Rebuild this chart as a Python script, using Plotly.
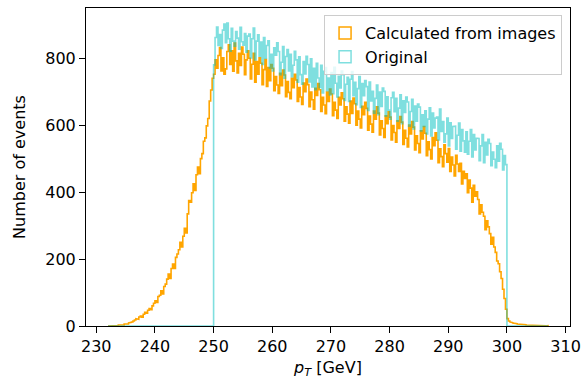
import numpy as np
import plotly.graph_objects as go

# ---------------- data ----------------
BIN_START = 232.0
BIN_WIDTH = 0.25
SERIES_NAMES = ["Calculated from images", "Original"]

# counts per 0.25 GeV bin from 232 to 307 GeV (4 bins per GeV per row)
CALCULATED_COUNTS = [
    0, 1, 0, 1,          # 232
    1, 2, 1, 3,          # 233
    3, 4, 3, 6,          # 234
    7, 6, 9, 11,         # 235
    12, 15, 18, 22,      # 236
    20, 27, 30, 26,      # 237
    35, 41, 38, 47,      # 238
    52, 49, 60, 68,      # 239
    75, 70, 88, 92,      # 240
    105, 96, 118, 125,   # 241
    140, 155, 142, 172,  # 242
    185, 172, 205, 215,  # 243
    228, 250, 236, 268,  # 244
    292, 278, 335, 375,  # 245
    370, 398, 425, 405,  # 246
    452, 475, 455, 500,  # 247
    515, 552, 562, 598,  # 248
    620, 672, 705, 740,  # 249
    752, 795, 770, 808,  # 250
    832, 762, 801, 752,  # 251
    768, 820, 840, 781,  # 252
    822, 761, 845, 792,  # 253
    756, 815, 778, 833,  # 254
    812, 751, 795, 822,  # 255
    800, 738, 782, 815,  # 256
    728, 790, 752, 801,  # 257
    785, 721, 766, 796,  # 258
    716, 772, 733, 781,  # 259
    770, 703, 745, 720,  # 260
    695, 755, 718, 765,  # 261
    750, 685, 730, 698,  # 262
    679, 740, 712, 752,  # 263
    735, 671, 712, 684,  # 264
    662, 726, 700, 738,  # 265
    721, 655, 699, 676,  # 266
    648, 710, 689, 724,  # 267
    706, 641, 683, 660,  # 268
    634, 699, 671, 708,  # 269
    693, 628, 668, 645,  # 270
    620, 683, 660, 697,  # 271
    679, 612, 655, 633,  # 272
    606, 672, 635, 681,  # 273
    664, 600, 642, 618,  # 274
    592, 656, 631, 668,  # 275
    650, 585, 627, 603,  # 276
    579, 642, 618, 655,  # 277
    636, 571, 613, 590,  # 278
    563, 628, 604, 640,  # 279
    624, 556, 599, 578,  # 280
    549, 613, 590, 626,  # 281
    609, 542, 585, 561,  # 282
    535, 600, 574, 611,  # 283
    594, 526, 568, 545,  # 284
    518, 583, 559, 596,  # 285
    576, 509, 550, 527,  # 286
    499, 563, 539, 577,  # 287
    555, 488, 529, 506,  # 288
    476, 541, 515, 489,  # 289
    530, 462, 505, 481,  # 290
    448, 510, 484, 462,  # 291
    486, 424, 462, 441,  # 292
    455, 398, 436, 412,  # 293
    370, 420, 388, 401,  # 294
    378, 335, 362, 340,  # 295
    328, 288, 314, 296,  # 296
    276, 244, 265, 236,  # 297
    220, 194, 186, 162,  # 298
    142, 110, 82, 50,    # 299
    22, 15, 12, 10,      # 300
    9, 8, 7, 6,          # 301
    6, 5, 5, 4,          # 302
    4, 3, 3, 2,          # 303
    3, 2, 2, 2,          # 304
    1, 2, 1, 1,          # 305
    1, 1, 0, 1,          # 306
]

# original counts, non-zero only between 250 and 300 GeV
ORIGINAL_START = 250.0
ORIGINAL_COUNTS = [
    780, 862, 893, 838,  # 250
    871, 829, 884, 902,  # 251
    846, 905, 858, 821,  # 252
    889, 851, 836, 880,  # 253
    860, 827, 892, 849,  # 254
    839, 874, 818, 866,  # 255
    872, 801, 858, 890,  # 256
    795, 851, 870, 806,  # 257
    848, 781, 862, 800,  # 258
    838, 852, 771, 812,  # 259
    762, 831, 809, 846,  # 260
    820, 751, 788, 835,  # 261
    740, 805, 826, 762,  # 262
    812, 745, 779, 821,  # 263
    795, 728, 804, 751,  # 264
    722, 790, 753, 806,  # 265
    781, 729, 798, 714,  # 266
    770, 706, 785, 741,  # 267
    713, 779, 696, 761,  # 268
    772, 703, 741, 690,  # 269
    757, 694, 773, 725,  # 270
    684, 746, 711, 762,  # 271
    751, 674, 722, 743,  # 272
    671, 737, 760, 688,  # 273
    728, 661, 709, 745,  # 274
    653, 724, 688, 733,  # 275
    715, 644, 729, 672,  # 276
    701, 636, 680, 720,  # 277
    631, 699, 656, 711,  # 278
    701, 627, 685, 645,  # 279
    618, 682, 698, 640,  # 280
    680, 612, 651, 691,  # 281
    604, 673, 638, 684,  # 282
    669, 597, 641, 677,  # 283
    589, 657, 612, 663,  # 284
    654, 583, 631, 596,  # 285
    643, 574, 618, 652,  # 286
    568, 636, 592, 621,  # 287
    624, 556, 648, 581,  # 288
    611, 549, 574, 621,  # 289
    538, 607, 560, 596,  # 290
    597, 528, 570, 606,  # 291
    522, 587, 553, 519,  # 292
    580, 513, 552, 587,  # 293
    505, 572, 526, 561,  # 294
    560, 494, 538, 572,  # 295
    488, 549, 511, 558,  # 296
    545, 479, 520, 498,  # 297
    473, 538, 492, 546,  # 298
    528, 466, 509, 482,  # 299
]

X_TICKS = [230, 240, 250, 260, 270, 280, 290, 300, 310]
Y_TICKS = [0, 200, 400, 600, 800]
X_RANGE = [228.25, 310.75]
Y_RANGE = [0, 950]

ORANGE = "#ffa500"
CYAN = "rgba(0,191,191,0.5)"
FONT = "DejaVu Sans"

# ---------------- build ----------------
calc = np.asarray(CALCULATED_COUNTS, dtype=float)
orig_full = np.zeros_like(calc)
offset = int(round((ORIGINAL_START - BIN_START) / BIN_WIDTH))
orig_full[offset:offset + len(ORIGINAL_COUNTS)] = ORIGINAL_COUNTS


def step_xy(counts):
    edges = BIN_START + BIN_WIDTH * np.arange(len(counts) + 1)
    x = np.repeat(edges, 2)
    y = np.concatenate([[0.0], np.repeat(counts, 2), [0.0]])
    return x, y


fig = go.Figure()
for counts, color, name in [(calc, ORANGE, SERIES_NAMES[0]),
                            (orig_full, CYAN, SERIES_NAMES[1])]:
    x, y = step_xy(counts)
    fig.add_trace(go.Scatter(x=x, y=y, mode="lines", name=name,
                             line=dict(color=color, width=1.6),
                             showlegend=False, hoverinfo="skip"))

# legend entries drawn as outlined patches (like matplotlib step hist)
for color, name in [(ORANGE, SERIES_NAMES[0]), (CYAN, SERIES_NAMES[1])]:
    fig.add_trace(go.Bar(x=[None], y=[None], name=name,
                         marker=dict(color="rgba(0,0,0,0)",
                                     line=dict(color=color, width=1.5))))

axis_common = dict(
    showline=True, mirror=True, linecolor="black", linewidth=1,
    ticks="outside", ticklen=6, tickwidth=1, tickcolor="black",
    showgrid=False, zeroline=False,
    tickfont=dict(family=FONT, size=16, color="black"),
)

fig.update_layout(
    width=588, height=385,
    margin=dict(l=86, r=15, t=7, b=59),
    paper_bgcolor="white", plot_bgcolor="white",
    font=dict(family=FONT, size=16, color="black"),
    xaxis=dict(range=X_RANGE, tickvals=X_TICKS,
               title=dict(text="<i>p</i><sub><i>T</i></sub> [GeV]",
                          font=dict(family=FONT, size=16), standoff=6),
               **axis_common),
    yaxis=dict(range=Y_RANGE, tickvals=Y_TICKS,
               title=dict(text="Number of events",
                          font=dict(family=FONT, size=16), standoff=15),
               **axis_common),
    legend=dict(x=0.9836, y=0.978, xanchor="right", yanchor="top",
                bgcolor="rgba(255,255,255,0.8)", bordercolor="#cccccc",
                borderwidth=1, font=dict(family=FONT, size=16, color="black"),
                tracegroupgap=0),
    showlegend=True,
)

fig.write_html("out.html",
               config={"displayModeBar": False},
               post_script="document.body.style.margin='0px';")
